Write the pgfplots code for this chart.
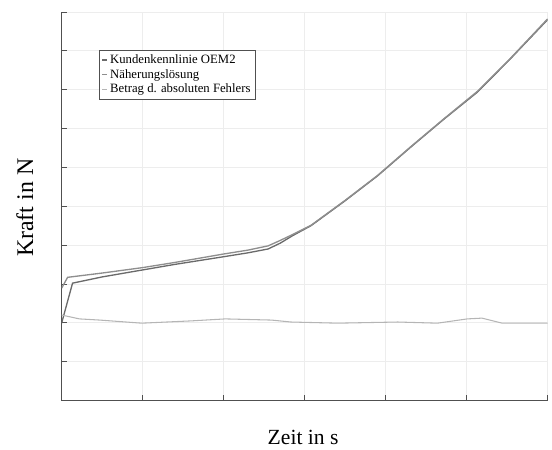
\documentclass[border=0pt]{standalone}
\usepackage{pgfplots}
\pgfplotsset{compat=1.18}
\usepackage{fontspec}
\setmainfont{Liberation Serif}
\definecolor{cA}{HTML}{6A6A6A}
\definecolor{cB}{HTML}{8E8E8E}
\definecolor{cE}{HTML}{B5B5B5}
\definecolor{axc}{HTML}{505050}
\begin{document}
\begin{tikzpicture}
\begin{axis}[
  at={(0,0)}, anchor=south west,
  scale only axis,
  width=366.75pt, height=293.25pt,
  xmin=0, xmax=6, ymin=0, ymax=10,
  xtick={0,1,...,6}, ytick={0,1,...,10},
  xticklabels={}, yticklabels={},
  axis x line=bottom, axis y line=left,
  axis line style={-, axc, line width=0.8pt},
  tick style={axc, line width=0.5pt},
  tick align=inside,
  major tick length=4pt,
  grid=major,
  grid style={gray!14, line width=0.6pt},
  xlabel={Zeit in s}, ylabel={Kraft in N},
  xlabel style={at={(axis description cs:0.497,-0.095)}, anchor=center,
    font=\fontsize{16.3}{18}\selectfont},
  ylabel style={at={(axis description cs:-0.0757,0.496)}, anchor=center,
    font=\fontsize{18}{20}\selectfont},
  legend style={at={(axis description cs:0.0777,0.903)}, anchor=north west,
    font=\fontsize{9.6}{11}\selectfont, draw=axc, line width=0.5pt,
    inner sep=1.5pt, row sep=-1pt, cells={anchor=west}},
  legend image code/.code={\draw[#1] (0cm,0cm) -- (0.12cm,0cm);},
  clip=true,
]
\addplot[cA, line width=1pt] coordinates {
 (0,1.99) (0.135,3.02) (0.5,3.18) (1.0,3.36) (1.39,3.50) (2.0,3.70) (2.3,3.80)
 (2.55,3.90) (2.70,4.05) (2.85,4.24) (3.08,4.50) (3.50,5.14) (3.90,5.78)
 (4.31,6.52) (4.72,7.24) (5.13,7.93) (5.53,8.77) (6.0,9.80)};
\addlegendentry{Kundenkennlinie OEM2}
\addplot[cB, line width=1pt] coordinates {
 (0,2.89) (0.074,3.17) (0.5,3.28) (1.0,3.42) (1.39,3.55) (2.0,3.77) (2.3,3.87)
 (2.55,3.98) (2.70,4.12) (2.85,4.27) (3.08,4.51) (3.50,5.15) (3.90,5.79)
 (4.31,6.53) (4.72,7.25) (5.13,7.95) (5.53,8.78) (6.0,9.82)};
\addlegendentry{Näherungslösung}
\addplot[cE, line width=0.8pt] coordinates {
 (0,2.2) (0.22,2.10) (0.47,2.07) (0.99,1.99) (1.61,2.05) (2.02,2.10)
 (2.59,2.07) (2.83,2.02) (3.41,1.99) (4.15,2.02) (4.64,1.99) (5.01,2.10)
 (5.19,2.12) (5.44,1.99) (5.93,1.99) (6.0,1.99)};
\addlegendentry{Betrag d. absoluten Fehlers}
\end{axis}
\path (-46.5pt,-35.25pt) rectangle (367.5pt,302.25pt);
\end{tikzpicture}
\end{document}
